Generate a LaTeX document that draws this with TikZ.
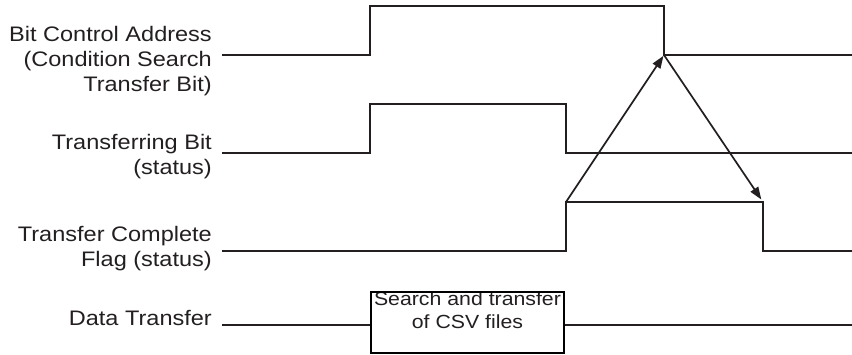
\documentclass[tikz,border=0pt]{standalone}
\usepackage{fontspec}
\setmainfont{Liberation Sans}[FakeStretch=1.12]
\usetikzlibrary{arrows.meta}
\definecolor{ink}{HTML}{231F20}
\begin{document}
\begin{tikzpicture}[x=1pt,y=-1pt,
  sig/.style={draw=ink,line width=1.9pt,line join=miter},
  lbl/.style={anchor=north east,inner sep=0pt,align=right,text=ink,font=\fontsize{21}{25}\selectfont},
  boxlbl/.style={anchor=north,inner sep=0pt,align=center,text=ink,font=\fontsize{19}{23}\selectfont},
  trig/.style={draw=ink,line width=1.7pt,-{Triangle[length=12.5pt,width=9pt]},shorten >=1pt}]
\useasboundingbox (0,0) rectangle (852,355);
% labels
\node[lbl] (l1) at (212,26.5) {Bit Control Address\\(Condition Search\\Transfer Bit)};
\node[lbl] (l2) at (212,134.2) {Transferring Bit\\(status)};
\node[lbl] (l3) at (212,225.6) {Transfer Complete\\Flag (status)};
\node[lbl] (l4) at (212,309.9) {Data Transfer};
% signal 1
\coordinate (a0) at (222,55); \coordinate (a1) at (370,55); \coordinate (a2) at (370,6);
\coordinate (a3) at (664,6); \coordinate (a4) at (664,55); \coordinate (a5) at (852,55);
\draw[sig] (a0) -- (a1) -- (a2) -- (a3) -- (a4) -- (a5);
% signal 2
\coordinate (b0) at (222,153); \coordinate (b1) at (370,153); \coordinate (b2) at (370,104);
\coordinate (b3) at (566,104); \coordinate (b4) at (566,153); \coordinate (b5) at (852,153);
\draw[sig] (b0) -- (b1) -- (b2) -- (b3) -- (b4) -- (b5);
% signal 3
\coordinate (c0) at (222,251); \coordinate (c1) at (566,251); \coordinate (c2) at (566,202);
\coordinate (c3) at (763,202); \coordinate (c4) at (763,251); \coordinate (c5) at (852,251);
\draw[sig] (c0) -- (c1) -- (c2) -- (c3) -- (c4) -- (c5);
% data transfer
\node[boxlbl] (dtt) at (467.5,292) {Search and transfer\\of CSV files};
\node[draw=black,line width=2.2pt,minimum width=193pt,minimum height=61pt,inner sep=0pt] (dtbox) at (467.5,322.8) {};
\coordinate (d0) at (222,325); \coordinate (d1) at (852,325);
\draw[sig] (d0) -- (d0 -| dtbox.west);
\draw[sig] (d1 -| dtbox.east) -- (d1);
% arrows
\draw[trig] (c2) -- (a4);
\draw[trig,shorten >=3pt] (a4) -- (c3);
\end{tikzpicture}
\end{document}
